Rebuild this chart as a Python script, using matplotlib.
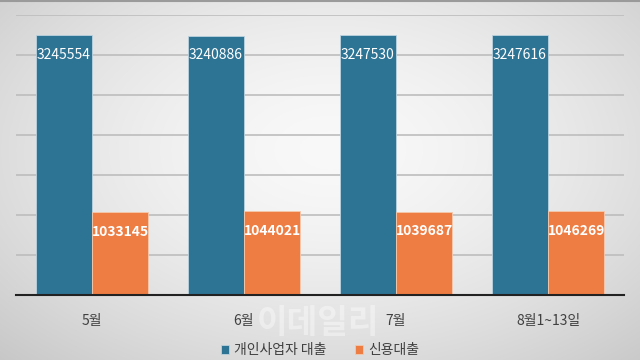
import numpy as np
import matplotlib
matplotlib.use("Agg")
import matplotlib.pyplot as plt

plt.rcParams['font.family'] = ['Noto Sans CJK KR', 'DejaVu Sans']

categories = ["5월", "6월", "7월", "8월1~13일"]
series_names = ["개인사업자 대출", "신용대출"]
personal_biz = [3245554, 3240886, 3247530, 3247616]
credit = [1033145, 1044021, 1039687, 1046269]

blue = "#2d7394"
orange = "#ee7d43"

fig = plt.figure(figsize=(6.4, 3.6), dpi=100)

# background radial gradient
bg = fig.add_axes([0, 0, 1, 1])
yy, xx = np.mgrid[0:360, 0:640]
d = np.sqrt(((xx - 330) / 420.0) ** 2 + ((yy - 150) / 260.0) ** 2)
val = 0.975 - 0.16 * np.clip(d, 0, 1.3) ** 1.6
bg.imshow(np.dstack([val, val, val]), extent=[0, 640, 360, 0], aspect='auto')
bg.set_xlim(0, 640); bg.set_ylim(360, 0)
bg.axis('off')
bg.plot([0, 640], [0.5, 0.5], color="#9a9a9a", lw=1.5)

ax = fig.add_axes([16/640, 1 - 295/360, 608/640, 280/360])
ax.patch.set_alpha(0)
x = np.arange(len(categories))
w = 0.368
b1 = ax.bar(x - w/2 - 0.003, personal_biz, width=w, color=blue, edgecolor="#bcd3e0", linewidth=0.6, label=series_names[0], zorder=3)
b2 = ax.bar(x + w/2 + 0.003, credit, width=w, color=orange, edgecolor="#f5c9ad", linewidth=0.6, label=series_names[1], zorder=3)
ax.set_xlim(-0.5, len(categories) - 0.5)
ax.set_ylim(0, 3500000)
ax.set_yticks(np.arange(0, 3500001, 500000))
ax.yaxis.grid(True, color="#bdbdbd", lw=1.2, zorder=0)
ax.tick_params(left=False, labelleft=False, bottom=False)
for s in ["left", "right", "top"]:
    ax.spines[s].set_visible(False)
ax.spines["bottom"].set_color("#222222")
ax.spines["bottom"].set_linewidth(1.5)
ax.spines["bottom"].set_zorder(4)
ax.set_xticks(x)
ax.set_xticklabels(categories, fontsize=10, color="#404040")
ax.tick_params(axis='x', pad=10)

for rects, vals, wt in ((b1, personal_biz, "medium"), (b2, credit, "bold")):
    for r, v in zip(rects, vals):
        ax.annotate(f"{v}", (r.get_x() + r.get_width()/2, v), xytext=(0, -19),
                    textcoords="offset points", ha="center", va="bottom",
                    color="white", fontsize=10, fontweight=wt, zorder=5)

# watermark
fig.text(318/640, 1 - 324/360, "이데일리", fontsize=24, fontweight="bold",
         color="white", alpha=0.4, ha="center", va="center")

leg = fig.legend(handles=[b1, b2], labels=series_names, loc="center",
                 bbox_to_anchor=(0.5, 1 - 350/360), ncol=2, frameon=False,
                 fontsize=10, handlelength=0.6, handleheight=0.6, columnspacing=2.0,
                 handletextpad=0.4)
for t in leg.get_texts():
    t.set_color("#404040")

fig.savefig("out.png", dpi=100)
